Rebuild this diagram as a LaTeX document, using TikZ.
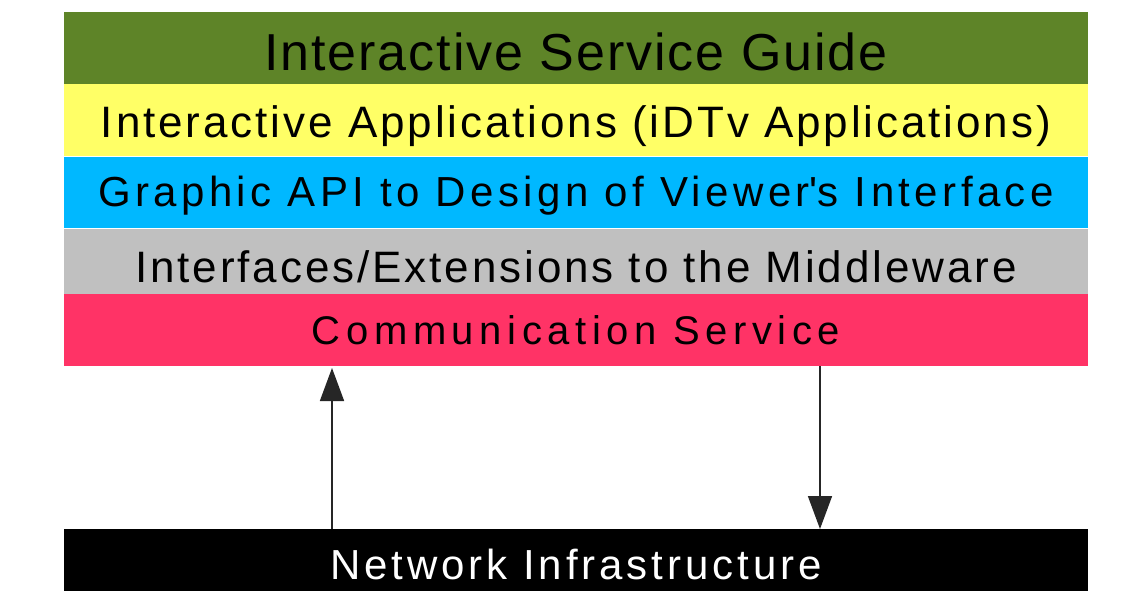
\documentclass[tikz,border=0pt]{standalone}
\usepackage{fontspec}
\setmainfont{Liberation Sans}
\usetikzlibrary{arrows.meta}
\definecolor{cgreen}{HTML}{5E8428}
\definecolor{cyellow}{HTML}{FFFF66}
\definecolor{cblue}{HTML}{00B8FF}
\definecolor{cgray}{HTML}{C0C0C0}
\definecolor{cpink}{HTML}{FF3366}
\newcommand{\lsfont}[2]{\fontsize{#1}{#1}\selectfont\addfontfeature{LetterSpace=#2}}
\begin{document}
\begin{tikzpicture}[x=1pt,y=-1pt,
  lbl/.style={anchor=base,inner sep=0pt},
  conn/.style={draw=black!85,line width=1.6pt,-{Triangle[length=33pt,width=24pt]}}]
\useasboundingbox (0,0) rectangle (1135,591);
\fill[white] (0,0) rectangle (1135,591);
\fill[cgreen]  (64,12)  rectangle (1088,84);
\fill[cyellow] (64,84)  rectangle (1088,156);
\fill[cblue]   (64,157) rectangle (1088,228);
\fill[cgray]   (64,229) rectangle (1088,294);
\fill[cpink]   (64,294) rectangle (1088,366);
\fill[black]   (64,529) rectangle (1088,591);
\node[lbl] (isg) at (576,71) {\lsfont{52}{3.7}Interactive Service Guide};
\node[lbl] (ia) at (576,138) {\lsfont{44}{6.6}Interactive Applications (iDTv Applications)};
\node[lbl] (ga) at (576,206) {\lsfont{42}{10.5}Graphic API to Design of Viewer\textquotesingle s Interface};
\node[lbl] (ie) at (576,282) {\lsfont{44}{6.6}Interfaces/Extensions to the Middleware};
\node[lbl] (cs) at (576,344) {\lsfont{40}{13.9}Communication Service};
\node[lbl,text=white] (ni) at (576,579) {\lsfont{42}{9.3}Network Infrastructure};
\coordinate (upS) at (332,529);
\coordinate (upE) at (332,368);
\coordinate (dnS) at (820,366);
\coordinate (dnE) at (820,529);
\draw[conn] (upS) -- (upE);
\draw[conn] (dnS) -- (dnE);
\end{tikzpicture}
\end{document}
